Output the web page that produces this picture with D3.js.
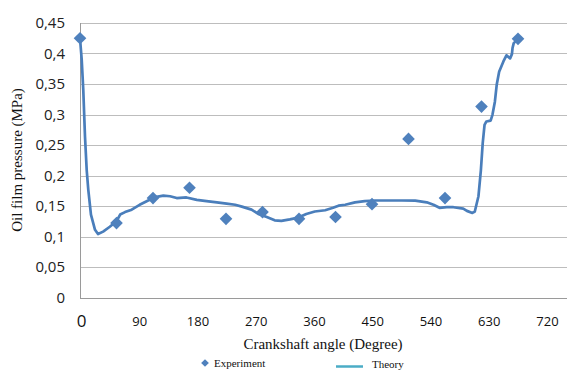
<!DOCTYPE html>
<html>
<head>
<meta charset="utf-8">
<script src="https://cdn.jsdelivr.net/npm/d3@7"></script>
<style>
  body { margin: 0; background: #fff; }
  svg { display: block; }
</style>
</head>
<body>
<svg width="568" height="370"></svg>
<script>
// experiment points, every 60 degrees
const expAngle = [0, 60, 120, 180, 240, 300, 360, 420, 480, 540, 600, 660, 720]
const expValue = [0.425, 0.122, 0.163, 0.180, 0.129, 0.140, 0.129, 0.132, 0.153, 0.260, 0.163, 0.313, 0.424]

// theory curve
const theoryAngle = [0, 2.8, 5.4, 8.2, 11, 13.6, 18, 24.7, 29.6, 38, 49, 60, 66, 74, 85, 98, 112, 126, 137, 148, 159, 175,
  192, 208, 225, 241, 255, 266, 282, 293, 307, 320, 331, 345, 359, 372, 386, 403, 416, 425, 436, 452, 468, 485, 507,
  529, 551, 570, 581, 591, 603, 614, 630, 636, 645, 649, 655, 659, 662, 665, 668, 675, 678, 682, 685, 689, 696, 701,
  707, 710, 711, 713, 718]
const theoryValue = [0.425, 0.390, 0.340, 0.264, 0.209, 0.177, 0.136, 0.111, 0.104, 0.108, 0.116, 0.125, 0.136, 0.140,
  0.144, 0.152, 0.159, 0.165, 0.167, 0.166, 0.163, 0.164, 0.160, 0.158, 0.156, 0.154, 0.152, 0.149, 0.144, 0.137, 0.132,
  0.1265, 0.1255, 0.128, 0.131, 0.137, 0.141, 0.143, 0.147, 0.1505, 0.152, 0.156, 0.158, 0.159, 0.159, 0.159, 0.1588,
  0.156, 0.152, 0.147, 0.148, 0.148, 0.1457, 0.142, 0.1386, 0.141, 0.166, 0.209, 0.253, 0.283, 0.2886, 0.290, 0.2995,
  0.321, 0.3486, 0.370, 0.387, 0.397, 0.392, 0.399, 0.409, 0.417, 0.422]

const yTicks = [0, 0.05, 0.1, 0.15, 0.2, 0.25, 0.3, 0.35, 0.4, 0.45]
const xTicks = [0, 90, 180, 270, 360, 450, 540, 630, 720]

const blue = '#4f81bd'
const svg = d3.select('svg')

let margin = { top: 23, right: 1, bottom: 72, left: 80 }
let width = 568
let height = 370

let x = d3.scaleLinear().domain([0, 720]).range([80, 518])
// the angle labels under the chart are spread wider than the data
let xLabel = d3.scaleLinear().domain([0, 720]).range([81, 547])
let y = d3.scaleLinear().domain([0, 0.45]).range([height - margin.bottom - 0.5, margin.top])

// grid
svg.append('g')
  .selectAll('line')
  .data(yTicks.slice(1))
  .enter()
  .append('line')
  .attr('x1', margin.left)
  .attr('x2', width - margin.right)
  .attr('y1', d => Math.round(y(d)) + 0.5)
  .attr('y2', d => Math.round(y(d)) + 0.5)
  .attr('stroke', '#bdbdbd')

// axis lines
svg.append('line')
  .attr('x1', margin.left + 0.5).attr('x2', margin.left + 0.5)
  .attr('y1', y(0.45)).attr('y2', Math.round(y(0)) + 0.5)
  .attr('stroke', '#9a9a9a')
svg.append('line')
  .attr('x1', margin.left).attr('x2', width - margin.right)
  .attr('y1', Math.round(y(0)) + 0.5).attr('y2', Math.round(y(0)) + 0.5)
  .attr('stroke', '#9a9a9a')

// y axis labels
let yAxis = svg.append('g')
  .attr('transform', `translate(${margin.left - 15},0)`)
  .call(d3.axisLeft(y).tickValues(yTicks).tickSize(0).tickFormat(d => String(+d.toFixed(2)).replace('.', ',')))
yAxis.select('.domain').remove()
yAxis.selectAll('text')
  .attr('x', 0)
  .style('font-family', '"Open Sans", sans-serif')
  .style('font-size', '15px')
  .attr('fill', '#222')

// x axis labels
let xAxis = svg.append('g')
  .attr('transform', `translate(0,${y(0) + 14})`)
  .call(d3.axisBottom(xLabel).tickValues(xTicks).tickSize(0))
xAxis.select('.domain').remove()
xAxis.selectAll('text')
  .attr('y', 0)
  .style('font-family', '"Open Sans", sans-serif')
  .style('font-size', d => (d === 0 ? '17px' : '13px'))
  .attr('dy', d => (d === 0 ? '0.9em' : '1.1em'))
  .attr('fill', '#111')

// axis titles
svg.append('text')
  .attr('transform', 'translate(22,160) rotate(-90)')
  .attr('text-anchor', 'middle')
  .style('font-family', '"Liberation Serif", serif')
  .style('font-size', '15px')
  .attr('fill', '#111')
  .text('Oil film pressure (MPa)')

svg.append('text')
  .attr('x', 323)
  .attr('y', 349)
  .attr('text-anchor', 'middle')
  .style('font-family', '"Liberation Serif", serif')
  .style('font-size', '15px')
  .attr('fill', '#111')
  .text('Crankshaft angle (Degree)')

// theory line
let theory = theoryAngle.map((a, i) => ({ a: a, v: theoryValue[i] }))
svg.append('path')
  .datum(theory)
  .attr('fill', 'none')
  .attr('stroke', '#4a7ebb')
  .attr('stroke-width', 2.7)
  .attr('stroke-linejoin', 'round')
  .attr('d', d3.line().x(d => x(d.a)).y(d => y(d.v)))

// experiment diamonds
let experiment = expAngle.map((a, i) => ({ a: a, v: expValue[i] }))
let diamond = d3.symbol().type(d3.symbolSquare).size(80)
svg.append('g')
  .selectAll('path')
  .data(experiment)
  .enter()
  .append('path')
  .attr('d', diamond)
  .attr('transform', d => `translate(${x(d.a)},${y(d.v)}) rotate(45)`)
  .attr('fill', blue)

// legend
let legend = svg.append('g')
  .style('font-family', '"Liberation Serif", serif')
  .style('font-size', '11px')
  .attr('fill', '#111')
legend.append('path')
  .attr('d', d3.symbol().type(d3.symbolSquare).size(30))
  .attr('transform', 'translate(205,363) rotate(45)')
  .attr('fill', blue)
legend.append('text').attr('x', 214).attr('y', 367).text('Experiment')
legend.append('line')
  .attr('x1', 336).attr('x2', 363)
  .attr('y1', 366.5).attr('y2', 366.5)
  .attr('stroke', '#4bacc6')
  .attr('stroke-width', 2.5)
legend.append('text').attr('x', 372).attr('y', 367.5).text('Theory')
</script>
</body>
</html>
